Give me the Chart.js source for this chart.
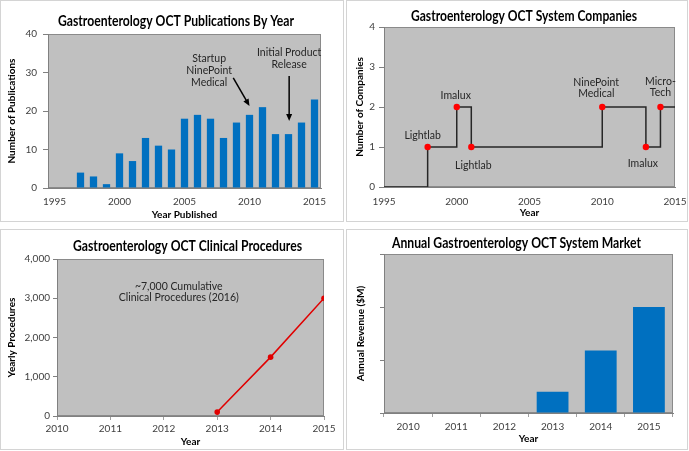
<!DOCTYPE html>
<html>
<head>
<meta charset="utf-8">
<script src="https://cdn.jsdelivr.net/npm/chart.js@4.4.0/dist/chart.umd.min.js"></script>
<style>
  body { margin: 0; background: #fff; width: 689px; height: 451px; position: relative; overflow: hidden; }
  .box { position: absolute; border: 1px solid #d4d4d4; box-sizing: border-box; }
  canvas { position: absolute; }
</style>
</head>
<body>
<div class="box" style="left:0;top:0;width:344px;height:222px"></div>
<div class="box" style="left:346px;top:0;width:342px;height:222px"></div>
<div class="box" style="left:0;top:229px;width:344px;height:221px"></div>
<div class="box" style="left:346px;top:229px;width:342px;height:221px"></div>
<canvas id="pubChart" width="342" height="220" style="left:1px;top:1px"></canvas>
<canvas id="companyChart" width="340" height="220" style="left:347px;top:1px"></canvas>
<canvas id="procChart" width="342" height="219" style="left:1px;top:230px"></canvas>
<canvas id="marketChart" width="340" height="219" style="left:347px;top:230px"></canvas>
<script>
// publications per year (1995-2015)
const pubYears = [1995, 1996, 1997, 1998, 1999, 2000, 2001, 2002, 2003, 2004, 2005,
                  2006, 2007, 2008, 2009, 2010, 2011, 2012, 2013, 2014, 2015];
const pubCounts = [null, null, 4, 3, 1, 9, 7, 13, 11, 10, 18,
                   19, 18, 13, 17, 19, 21, 14, 14, 17, 23];

// number of companies, step changes
const companyYears = [1995, 1998, 2000, 2001, 2010, 2013, 2014, 2015];
const companyCounts = [0, 1, 2, 1, 2, 1, 2, 2];
const companyNames = ['', 'Lightlab', 'Imalux', 'Lightlab', 'NinePoint Medical', 'Imalux', 'Micro-Tech', ''];

// yearly clinical procedures
const procYears = [2013, 2014, 2015];
const procCounts = [100, 1500, 3000];

// annual market revenue (no axis values shown)
const marketYears = ['2010', '2011', '2012', '2013', '2014', '2015'];
const marketRevenue = [0, 0, 0, 0.4, 1.18, 2.0];

const FONT = 'Lato';
Chart.defaults.font.family = FONT;
Chart.defaults.font.size = 10;
Chart.defaults.color = '#404040';

// grey plot area with a thin frame
const frame = {
    id: 'frame',
    beforeDraw(chart) {
        const a = chart.chartArea, ctx = chart.ctx;
        ctx.save();
        ctx.fillStyle = '#c0c0c0';
        ctx.fillRect(a.left, a.top, a.right - a.left, a.bottom - a.top);
        ctx.strokeStyle = '#8a8a8a';
        ctx.lineWidth = 1;
        ctx.strokeRect(a.left + 0.5, a.top + 0.5, a.right - a.left - 1, a.bottom - a.top - 1);
        ctx.restore();
    }
};

// chart heading, squeezed to the width of the original narrow font
const heading = {
    id: 'heading',
    afterDraw(chart, args, opts) {
        const ctx = chart.ctx;
        ctx.save();
        ctx.font = 'bold 15px ' + FONT;
        ctx.fillStyle = '#000';
        ctx.textAlign = 'center';
        ctx.textBaseline = 'middle';
        ctx.fillText(opts.text, opts.x, opts.y, opts.width);
        ctx.restore();
    }
};

// text labels and arrows placed in data coordinates
const notes = {
    id: 'notes',
    afterDatasetsDraw(chart, args, opts) {
        const ctx = chart.ctx, xs = chart.scales.x, ys = chart.scales.y;
        const lh = opts.lineHeight || 12;
        ctx.save();
        ctx.font = '10.5px ' + FONT;
        ctx.fillStyle = '#262626';
        ctx.textAlign = 'center';
        ctx.textBaseline = 'middle';
        (opts.texts || []).forEach(t => {
            const x = xs.getPixelForValue(t.x) + (t.dx || 0);
            const y = ys.getPixelForValue(t.y) + (t.dy || 0);
            t.lines.forEach((line, i) => ctx.fillText(line, x, y + i * lh));
        });
        ctx.strokeStyle = '#000';
        ctx.fillStyle = '#000';
        ctx.lineWidth = 1.5;
        (opts.arrows || []).forEach(a => {
            const x1 = xs.getPixelForValue(a.x1), y1 = ys.getPixelForValue(a.y1);
            const x2 = xs.getPixelForValue(a.x2), y2 = ys.getPixelForValue(a.y2);
            const ang = Math.atan2(y2 - y1, x2 - x1);
            const c = Math.cos(ang), s = Math.sin(ang);
            ctx.beginPath();
            ctx.moveTo(x1, y1);
            ctx.lineTo(x2 - 5 * c, y2 - 5 * s);
            ctx.stroke();
            ctx.beginPath();
            ctx.moveTo(x2, y2);
            ctx.lineTo(x2 - 7 * c + 3 * s, y2 - 7 * s - 3 * c);
            ctx.lineTo(x2 - 7 * c - 3 * s, y2 - 7 * s + 3 * c);
            ctx.closePath();
            ctx.fill();
        });
        ctx.restore();
    }
};

function axisTitle(text, pad) {
    return { display: true, text: text, color: '#000', font: { size: 10, weight: 'bold', lineHeight: 1.2 }, padding: pad };
}

// fixed axis sizes so the plot areas sit where they do in the original
function fixHeight(h) {
    return s => { s.height = h; s.paddingLeft = 0; s.paddingRight = 0; };
}
function fixWidth(w) {
    return s => { s.width = w; s.paddingTop = 0; s.paddingBottom = 0; };
}

// 1. publications by year
new Chart(document.getElementById('pubChart'), {
    type: 'bar',
    data: {
        labels: pubYears,
        datasets: [{ data: pubCounts, backgroundColor: '#0070c0', barPercentage: 0.56, categoryPercentage: 1 }]
    },
    options: {
        responsive: false, animation: false,
        layout: { padding: { left: 0, right: 22, top: 33, bottom: 0 } },
        plugins: {
            legend: { display: false }, tooltip: { enabled: false }, title: { display: false },
            heading: { text: 'Gastroenterology OCT Publications By Year', x: 175, y: 20, width: 236 },
            notes: {
                lineHeight: 12.2,
                texts: [
                    { x: 2006.9 - 1995, y: 33.6, lines: ['Startup', 'NinePoint', 'Medical'] },
                    { x: 2013.05 - 1995, y: 35.2, lines: ['Initial Product', 'Release'] }
                ],
                arrows: [
                    { x1: 2008.75 - 1995, y1: 28.6, x2: 2010 - 1995, y2: 21.3 },
                    { x1: 2013.05 - 1995, y1: 29.1, x2: 2013.05 - 1995, y2: 17.4 }
                ]
            }
        },
        scales: {
            x: {
                afterFit: fixHeight(33),
                grid: { display: false, drawTicks: false },
                border: { color: '#808080' },
                ticks: { autoSkip: false, maxRotation: 0, padding: 8,
                         callback: (v, i) => pubYears[i] % 5 === 0 ? pubYears[i] : '' },
                title: axisTitle('Year Published', { top: 0, bottom: 0 })
            },
            y: {
                min: 0, max: 40,
                afterFit: fixWidth(47),
                grid: { drawOnChartArea: false, color: '#808080', tickLength: 5 },
                border: { color: '#808080' },
                ticks: { stepSize: 10, padding: 6 },
                title: axisTitle('Number of Publications', { top: 5, bottom: 0 })
            }
        }
    },
    plugins: [frame, notes, heading]
});

// 2. system companies
new Chart(document.getElementById('companyChart'), {
    type: 'line',
    data: {
        datasets: [{
            data: companyYears.map((y, i) => ({ x: y, y: companyCounts[i] })),
            stepped: 'before',
            borderColor: '#262626', borderWidth: 1.5,
            pointRadius: companyNames.map(n => n ? 3.2 : 0),
            pointBackgroundColor: '#ff0000', pointBorderWidth: 0
        }]
    },
    options: {
        responsive: false, animation: false,
        layout: { padding: { left: 0, right: 12, top: 26, bottom: 0 } },
        plugins: {
            legend: { display: false }, tooltip: { enabled: false }, title: { display: false },
            heading: { text: 'Gastroenterology OCT System Companies', x: 177, y: 15, width: 226 },
            notes: {
                lineHeight: 10.5,
                texts: [
                    { x: 1998, y: 1, dx: -5, dy: -11, lines: ['Lightlab'] },
                    { x: 2000, y: 2, dx: -1, dy: -11, lines: ['Imalux'] },
                    { x: 2001, y: 1, dx: 2, dy: 19, lines: ['Lightlab'] },
                    { x: 2010, y: 2, dx: -6, dy: -24, lines: ['NinePoint', 'Medical'] },
                    { x: 2013, y: 1, dx: -3, dy: 17, lines: ['Imalux'] },
                    { x: 2014, y: 2, dx: 0, dy: -25, lines: ['Micro-', 'Tech'] }
                ]
            }
        },
        scales: {
            x: {
                type: 'linear', min: 1995, max: 2015,
                afterFit: fixHeight(34),
                grid: { display: false, drawTicks: false },
                border: { color: '#808080' },
                ticks: { stepSize: 5, padding: 9, maxRotation: 0, callback: v => String(v) },
                title: axisTitle('Year', { top: 0, bottom: 2 })
            },
            y: {
                min: 0, max: 4,
                afterFit: fixWidth(37),
                grid: { drawOnChartArea: false, color: '#808080', tickLength: 5 },
                border: { color: '#808080' },
                ticks: { stepSize: 1, padding: 4 },
                title: axisTitle('Number of Companies', { top: 7, bottom: 0 })
            }
        }
    },
    plugins: [frame, notes, heading]
});

// 3. clinical procedures
new Chart(document.getElementById('procChart'), {
    type: 'line',
    data: {
        datasets: [{
            data: procYears.map((y, i) => ({ x: y, y: procCounts[i] })),
            borderColor: '#e00000', borderWidth: 1.5,
            pointRadius: 2.8, pointBackgroundColor: '#e00000', pointBorderWidth: 0
        }]
    },
    options: {
        responsive: false, animation: false,
        layout: { padding: { left: 0, right: 19, top: 29, bottom: 0 } },
        plugins: {
            legend: { display: false }, tooltip: { enabled: false }, title: { display: false },
            heading: { text: 'Gastroenterology OCT Clinical Procedures', x: 186.5, y: 16, width: 229 },
            notes: {
                lineHeight: 11.5,
                texts: [{ x: 2012.28, y: 3300, lines: ['~7,000 Cumulative', 'Clinical Procedures (2016)'] }]
            }
        },
        scales: {
            x: {
                type: 'linear', min: 2010, max: 2015,
                afterFit: fixHeight(33),
                grid: { drawOnChartArea: false, color: '#a0a0a0', tickLength: 4 },
                border: { color: '#808080' },
                ticks: { stepSize: 1, padding: 3, maxRotation: 0, callback: v => String(v) },
                title: axisTitle('Year', { top: 0, bottom: 1 })
            },
            y: {
                min: 0, max: 4000,
                afterFit: fixWidth(56),
                grid: { drawOnChartArea: false, color: '#808080', tickLength: 4 },
                border: { color: '#808080' },
                ticks: { stepSize: 1000, padding: 3, callback: v => v.toLocaleString('en-US') },
                title: axisTitle('Yearly Procedures', { top: 5, bottom: 0 })
            }
        }
    },
    plugins: [frame, notes, heading]
});

// 4. annual system market
new Chart(document.getElementById('marketChart'), {
    type: 'bar',
    data: {
        labels: marketYears,
        datasets: [{ data: marketRevenue, backgroundColor: '#0070c0', barPercentage: 0.66, categoryPercentage: 1 }]
    },
    options: {
        responsive: false, animation: false,
        layout: { padding: { left: 0, right: 14, top: 24, bottom: 0 } },
        plugins: {
            legend: { display: false }, tooltip: { enabled: false }, title: { display: false },
            heading: { text: 'Annual Gastroenterology OCT System Market', x: 169.5, y: 13, width: 249 }
        },
        scales: {
            x: {
                afterFit: fixHeight(36),
                grid: { drawOnChartArea: false, offset: true, color: '#a0a0a0', tickLength: 4 },
                border: { color: '#808080' },
                ticks: { padding: 4, maxRotation: 0 },
                title: axisTitle('Year', { top: 0, bottom: 4 })
            },
            y: {
                min: 0, max: 3,
                afterFit: fixWidth(37),
                grid: { drawOnChartArea: false, color: '#808080', tickLength: 4 },
                border: { color: '#808080' },
                ticks: { stepSize: 1, callback: () => '' },
                title: axisTitle('Annual Revenue ($M)', { top: 8, bottom: 0 })
            }
        }
    },
    plugins: [frame, heading]
});
</script>
</body>
</html>
